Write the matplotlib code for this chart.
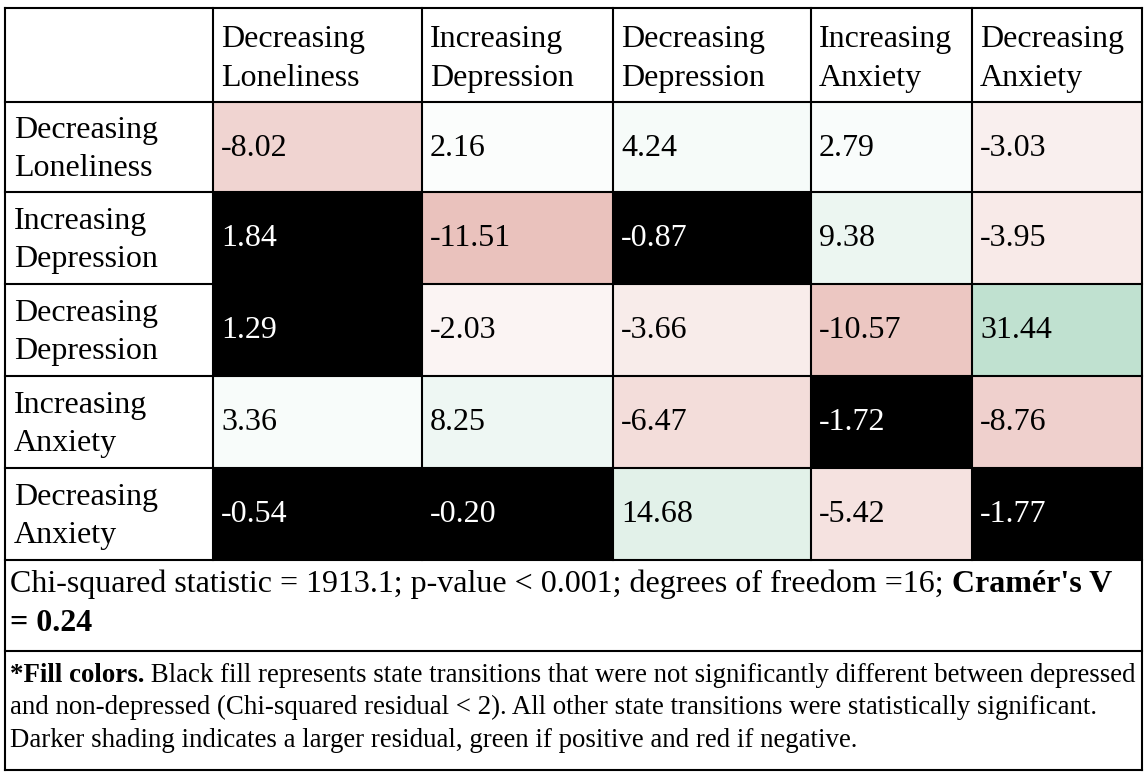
import matplotlib
matplotlib.use("Agg")
import matplotlib.pyplot as plt
from matplotlib.colors import LinearSegmentedColormap, TwoSlopeNorm
from matplotlib.patches import Rectangle

# ---- data ----
row_labels = ["Decreasing\nLoneliness", "Increasing\nDepression", "Decreasing\nDepression",
              "Increasing\nAnxiety", "Decreasing\nAnxiety"]
col_labels = ["Decreasing\nLoneliness", "Increasing\nDepression", "Decreasing\nDepression",
              "Increasing\nAnxiety", "Decreasing\nAnxiety"]
residuals = [
    [-8.02, 2.16, 4.24, 2.79, -3.03],
    [1.84, -11.51, -0.87, 9.38, -3.95],
    [1.29, -2.03, -3.66, -10.57, 31.44],
    [3.36, 8.25, -6.47, -1.72, -8.76],
    [-0.54, -0.20, 14.68, -5.42, -1.77],
]
sig_threshold = 2.0
stats_line1 = [("Chi-squared statistic = 1913.1; p-value < 0.001; degrees of freedom =16;", "normal"),
               (" Cramér's V", "bold")]
stats_line2 = [("= 0.24", "bold")]
note_lines = [
    [("*Fill colors.", "bold"),
     (" Black fill represents state transitions that were not significantly different between depressed", "normal")],
    [("and non-depressed (Chi-squared residual < 2). All other state transitions were statistically significant.", "normal")],
    [("Darker shading indicates a larger residual, green if positive and red if negative.", "normal")],
]

# ---- layout (pixels) ----
W, H = 1148, 776
col_x = [5, 213, 422, 613, 811, 972, 1142]
row_y = [8, 102, 192, 284, 376, 468, 560, 651, 770]
FONT = "Liberation Serif"
FS = 23
FS_NOTE = 19.4
LS = 1.45

fig = plt.figure(figsize=(W / 100, H / 100), dpi=100)
ax = fig.add_axes([0, 0, 1, 1])
ax.set_xlim(0, W)
ax.set_ylim(H, 0)
ax.axis("off")

flat = [v for r in residuals for v in r]
cmap = LinearSegmentedColormap.from_list("resid", ["#eac2bd", "#ffffff", "#c0e1d0"])
norm = TwoSlopeNorm(vmin=min(flat), vcenter=0.0, vmax=max(flat))

# cell fills
for i, row in enumerate(residuals):
    for j, v in enumerate(row):
        x0, x1 = col_x[j + 1], col_x[j + 2]
        y0, y1 = row_y[i + 1], row_y[i + 2]
        black = abs(v) < sig_threshold
        fc = "black" if black else cmap(norm(v))
        ax.add_patch(Rectangle((x0, y0), x1 - x0, y1 - y0, facecolor=fc, edgecolor="none", zorder=1))
        ax.text(x0 + 8, (y0 + y1) / 2 + 1, f"{v:.2f}", family=FONT, fontsize=FS,
                color="white" if black else "black", ha="left", va="center", zorder=3)

# header labels
for j, lab in enumerate(col_labels):
    x0 = col_x[j + 1]
    ax.text(x0 + 8, (row_y[0] + row_y[1]) / 2 + 4, lab, family=FONT, fontsize=FS,
            ha="left", va="center", linespacing=LS, zorder=3)
for i, lab in enumerate(row_labels):
    y0, y1 = row_y[i + 1], row_y[i + 2]
    ax.text(col_x[0] + 9, (y0 + y1) / 2 + 2.5, lab, family=FONT, fontsize=FS,
            ha="left", va="center", linespacing=LS, zorder=3)

# grid lines
lw = 1.5
for k, y in enumerate(row_y):
    ax.plot([col_x[0], col_x[-1]], [y, y], color="black", lw=lw, zorder=2, solid_capstyle="projecting")
for k, x in enumerate(col_x):
    if k in (0, len(col_x) - 1):
        ax.plot([x, x], [row_y[0], row_y[-1]], color="black", lw=lw, zorder=2, solid_capstyle="projecting")
    else:
        ax.plot([x, x], [row_y[0], row_y[6]], color="black", lw=lw, zorder=2, solid_capstyle="projecting")

fig.canvas.draw()
renderer = fig.canvas.get_renderer()
inv = ax.transData.inverted()


def draw_runs(runs, x, y, fs):
    for txt, weight in runs:
        t = ax.text(x, y, txt, family=FONT, fontsize=fs, fontweight=weight,
                    ha="left", va="baseline", zorder=3)
        bb = t.get_window_extent(renderer=renderer)
        x = inv.transform((bb.x1, bb.y0))[0]


draw_runs(stats_line1, 10, 592, FS)
draw_runs(stats_line2, 10, 631, FS)
for k, runs in enumerate(note_lines):
    draw_runs(runs, 10, 682 + k * 32.5, FS_NOTE)

fig.savefig("out.png", dpi=100)
